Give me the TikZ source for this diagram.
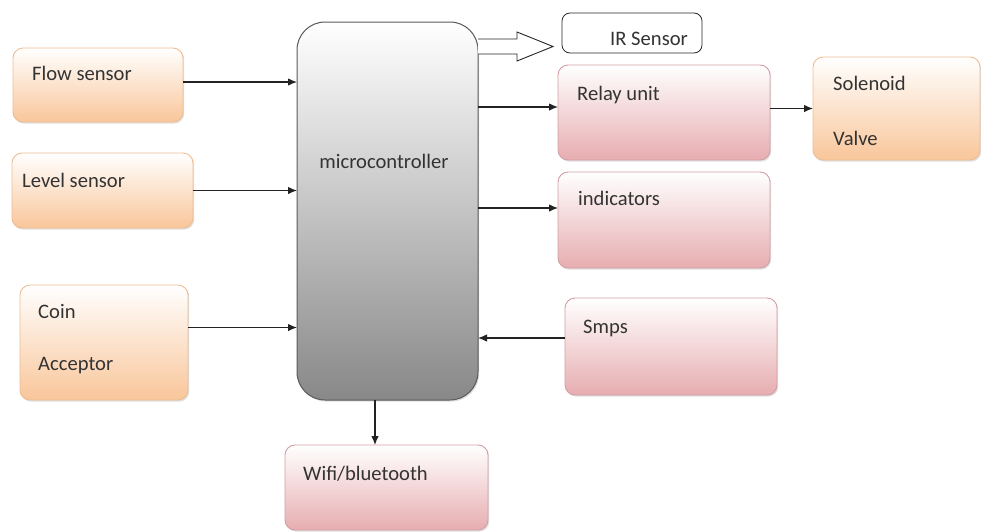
\documentclass[tikz,border=0pt]{standalone}
\usepackage{fontspec}
\setmainfont{Carlito}
\usetikzlibrary{arrows.meta,shadows,calc}

\definecolor{peach}{HTML}{F9C69A}
\definecolor{peachline}{HTML}{EDBD93}
\definecolor{rose}{HTML}{E7ADB0}
\definecolor{roseline}{HTML}{D29FA5}
\definecolor{mcgray}{HTML}{888888}
\definecolor{mcline}{HTML}{5A5A5A}
\definecolor{txt}{HTML}{333333}
\definecolor{wire}{HTML}{222222}

\begin{document}
\begin{tikzpicture}[x=1pt,y=1pt,
  base/.style={inner sep=0pt, outer sep=0pt,
    drop shadow={shadow xshift=1.2pt, shadow yshift=-1.6pt, opacity=.25, fill=black!50}},
  orangebox/.style={base, rounded corners=10pt, draw=peachline, line width=.9pt,
    top color=white, bottom color=peach},
  pinkbox/.style={base, rounded corners=10pt, draw=roseline, line width=.9pt,
    top color=white, bottom color=rose},
  mcbox/.style={base, rounded corners=28pt, draw=mcline, line width=1pt,
    top color=white, bottom color=mcgray},
  irbox/.style={inner sep=0pt, outer sep=0pt, rounded corners=8pt, draw=black!85,
    line width=.8pt, fill=white},
  lbl/.style={inner sep=0pt, anchor=base west, text=txt,
    font=\fontsize{20.6}{24}\selectfont},
  arr/.style={draw=wire, line width=1.2pt, -{Latex[length=9pt,width=7.5pt]}},
  hollow/.style={draw=black!85, line width=.9pt, fill=white, line join=miter}]

\useasboundingbox (0,0) rectangle (981,-531);

% input blocks
\node[orangebox, minimum width=170pt, minimum height=74pt]  (flow)  at (98,-85)    {};
\node[orangebox, minimum width=181pt, minimum height=75pt]  (level) at (102.5,-190.5) {};
\node[orangebox, minimum width=168pt, minimum height=115pt] (coin)  at (104,-342.5) {};

% controller
\node[mcbox, minimum width=181pt, minimum height=378pt] (mc) at (387.5,-211) {};

% output blocks
\node[pinkbox, minimum width=212pt, minimum height=95pt]   (relay)    at (664,-112.5) {};
\node[orangebox, minimum width=167pt, minimum height=103pt] (solenoid) at (896.5,-108.5) {};
\node[pinkbox, minimum width=212pt, minimum height=96pt]   (ind)      at (664,-220) {};
\node[pinkbox, minimum width=212pt, minimum height=97pt]   (smps)     at (671,-346.5) {};
\node[pinkbox, minimum width=203pt, minimum height=85pt]   (wifi)     at (386.5,-487.5) {};
\node[irbox, minimum width=140pt, minimum height=40pt]     (ir)       at (632,-33) {};

% labels
\node[lbl] (flowtxt)  at (32,-80)   {Flow sensor};
\node[lbl] (leveltxt) at (22,-187)  {Level sensor};
\node[lbl] (cointxt)  at (38,-318)  {Coin};
\node[lbl] (acctxt)   at (38,-370)  {Acceptor};
\node[lbl, anchor=base] (mctxt) at (384,-168) {microcontroller};
\node[lbl] (relaytxt) at (577,-100) {Relay unit};
\node[lbl] (soltxt)   at (833,-90)  {Solenoid};
\node[lbl] (valtxt)   at (833,-145) {Valve};
\node[lbl] (indtxt)   at (578,-205) {indicators};
\node[lbl] (smpstxt)  at (583,-333) {Smps};
\node[lbl] (wifitxt)  at (303,-480) {Wifi/bluetooth};
\node[lbl] (irtxt)    at (610,-45)  {IR Sensor};

% connectors into the controller
\coordinate (f1) at ([yshift=3pt]flow.east);
\draw[arr] (f1) -- (f1 -| mc.west);
\draw[arr] (level.east) -- (level.east -| mc.west);
\coordinate (c1) at ([yshift=15pt]coin.east);
\draw[arr] (c1) -- (c1 -| mc.west);
\coordinate (s1) at ([yshift=8.5pt]smps.west);
\draw[arr] (s1) -- (s1 -| mc.east);

% connectors out of the controller
\coordinate (r1) at ([yshift=5.5pt]relay.west);
\draw[arr] (r1 -| mc.east) -- (r1);
\draw[arr] (solenoid.west -| relay.east) -- (solenoid.west);
\coordinate (i1) at ([yshift=12pt]ind.west);
\draw[arr] (i1 -| mc.east) -- (i1);
\coordinate (w1) at ([xshift=-11.5pt]wifi.north);
\draw[arr] (w1 |- mc.south) -- (w1);

% hollow block arrow towards the IR sensor
\coordinate (irt) at ($(mc.north east)+(0,-24.5)$);
\draw[hollow] ($(irt)+(0,7.5)$) -- ($(irt)+(39,7.5)$) -- ($(irt)+(39,14.5)$)
  -- ($(irt)+(75,0)$) -- ($(irt)+(39,-14.5)$) -- ($(irt)+(39,-7.5)$)
  -- ($(irt)+(0,-7.5)$);

\end{tikzpicture}
\end{document}
